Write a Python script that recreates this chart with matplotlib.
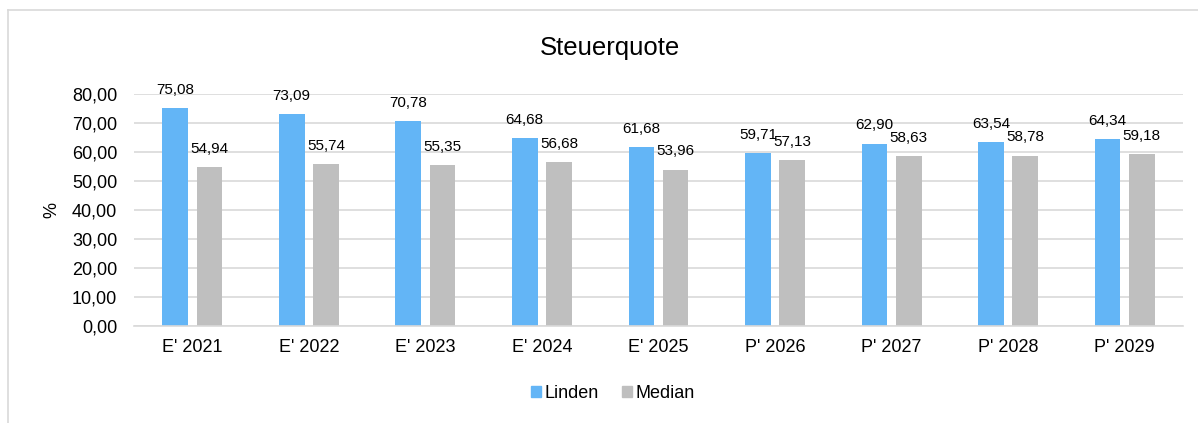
import matplotlib
matplotlib.use("Agg")
import matplotlib.pyplot as plt
import numpy as np
from matplotlib.patches import Rectangle
from matplotlib.lines import Line2D

categories = ["E' 2021", "E' 2022", "E' 2023", "E' 2024", "E' 2025",
              "P' 2026", "P' 2027", "P' 2028", "P' 2029"]
linden = [75.08, 73.09, 70.78, 64.68, 61.68, 59.71, 62.90, 63.54, 64.34]
median = [54.94, 55.74, 55.35, 56.68, 53.96, 57.13, 58.63, 58.78, 59.18]

plt.rcParams['font.family'] = ['Liberation Sans', 'DejaVu Sans']

W, H = 1198, 423
fig = plt.figure(figsize=(W/100, H/100), dpi=100)

# chart border (only top and left visible)
fig.add_artist(Line2D([8/W, 8/W], [0, 1 - 10/H], transform=fig.transFigure, color='#d9d9d9', lw=1.2))
fig.add_artist(Line2D([8/W, 1], [1 - 10/H, 1 - 10/H], transform=fig.transFigure, color='#d9d9d9', lw=1.2))

x0, x1 = 134, 1183
y0, y1 = 326, 94
ax = fig.add_axes([x0/W, 1 - y0/H, (x1 - x0)/W, (y0 - y1)/H])

x = np.arange(len(categories))
bw = 0.22
off = 0.147
c_blue = '#63b5f6'
c_gray = '#bfbfbf'
ax.bar(x - off, linden, bw, color=c_blue, label='Linden', zorder=2)
ax.bar(x + off, median, bw, color=c_gray, label='Median', zorder=2)

def fmt(v):
    return f"{v:.2f}".replace('.', ',')

for xi, v in zip(x - off, linden):
    ax.annotate(fmt(v), (xi, v), xytext=(0, 8), textcoords='offset points',
                ha='center', va='bottom', fontsize=11, color='#000000', annotation_clip=False)
for xi, v in zip(x + off, median):
    ax.annotate(fmt(v), (xi, v), xytext=(0, 8), textcoords='offset points',
                ha='center', va='bottom', fontsize=11, color='#000000', annotation_clip=False)

ax.set_xlim(-0.5, len(categories) - 0.5)
ax.set_ylim(0, 80)
ax.set_yticks(np.arange(0, 81, 10))
ax.set_yticklabels([fmt(v) for v in np.arange(0, 81, 10)], fontsize=13)
ax.set_xticks(x)
ax.set_xticklabels(categories, fontsize=13)
ax.tick_params(length=0)
ax.tick_params(axis='y', pad=12)
ax.tick_params(axis='x', pad=9)
ax.grid(axis='y', color='#d9d9d9', lw=1.2, zorder=0)
for s in ['top', 'right', 'left']:
    ax.spines[s].set_visible(False)
ax.spines['bottom'].set_color('#d9d9d9')
ax.spines['bottom'].set_linewidth(1.2)
ax.set_axisbelow(True)

fig.text(52/W, 1 - 210/H, '%', rotation=90, ha='center', va='center', fontsize=13)
fig.text(610/W, 1 - 48/H, 'Steuerquote', ha='center', va='center', fontsize=18.5)

handles = [Rectangle((0, 0), 1, 1, color=c_blue), Rectangle((0, 0), 1, 1, color=c_gray)]
fig.legend(handles, ['Linden', 'Median'], loc='center', bbox_to_anchor=(613/W, 1 - 393/H),
           ncol=2, frameon=False, fontsize=13, handlelength=0.55, handleheight=0.55,
           handletextpad=0.2, columnspacing=1.3)

fig.savefig('out.png', dpi=100)
